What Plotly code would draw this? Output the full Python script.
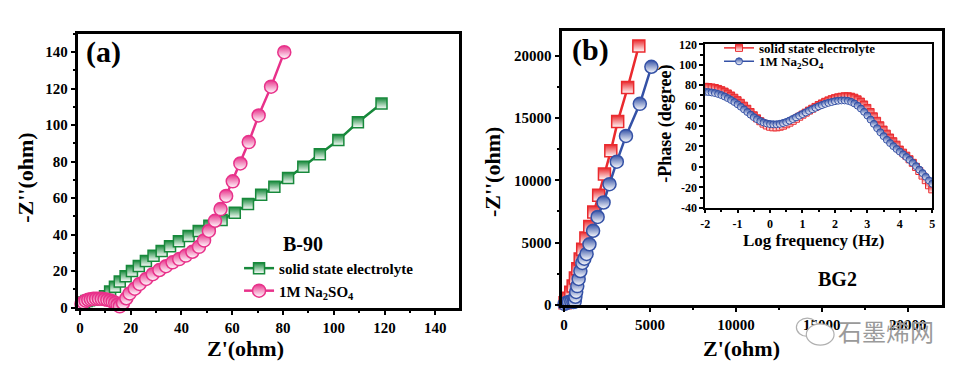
import plotly.graph_objects as go

# ---------------- data ----------------
# Panel (a)  B-90 Nyquist
a_solid_x = [0.8, 1.6, 2.6, 3.6, 4.6, 5.6, 6.6, 7.6, 8.6, 9.9, 11.9, 13.8, 15.7, 18.0, 20.5, 23.2, 26.0, 29.0,
             32.2, 35.5, 39.0, 42.8, 46.8, 51.0, 55.8, 61.0, 66.2, 71.4, 76.6, 82.0, 88.0, 94.5, 101.8, 109.5, 118.8]
a_solid_y = [1.5, 2.8, 3.6, 4.1, 4.4, 4.6, 4.7, 4.8, 5.0, 6.2, 8.8, 11.5, 14.3, 17.2, 20.0, 22.8, 25.6, 28.4,
             31.0, 33.6, 36.4, 39.2, 42.0, 44.8, 48.0, 52.0, 56.8, 61.8, 66.2, 71.0, 77.2, 84.0, 91.8, 101.6, 111.8]
a_na_x = [0.6, 1.4, 2.3, 3.3, 4.3, 5.3, 6.4, 7.5, 8.6, 9.7, 10.8, 11.9, 12.9, 13.9, 14.8, 15.7, 17.0, 18.3,
          19.6, 21.6, 23.5, 26.1, 28.7, 31.3, 33.9, 36.5, 39.1, 41.7, 44.3, 46.9, 48.9, 50.8, 53.2, 55.4, 57.6,
          60.2, 63.2, 66.5, 70.4, 75.3, 80.5]
a_na_y = [2.0, 3.0, 3.8, 4.3, 4.6, 4.8, 4.9, 4.9, 4.8, 4.6, 4.3, 3.9, 3.3, 2.6, 1.6, 0.7, 2.5, 5.1,
          7.8, 10.4, 13.0, 15.7, 18.3, 20.6, 22.7, 24.8, 26.6, 28.5, 30.6, 33.3, 36.8, 42.0, 47.6, 54.0, 61.2,
          69.2, 79.0, 90.7, 105.3, 121.1, 140.0]

# Panel (b)  BG2 Nyquist
b_solid_x = [60, 220, 390, 530, 660, 800, 940, 1085, 1270, 1497, 1728, 2015, 2350, 2720, 3120, 3700, 4350]
b_solid_y = [150, 520, 1000, 1500, 2150, 2900, 3680, 4450, 5360, 6290, 7450, 8800, 10500, 12370, 14720, 17450, 20800]
b_na_x = [30, 140, 280, 420, 540, 620, 660, 705, 770, 850, 950, 1060, 1180, 1310, 1477, 1690, 1954, 2299, 2644,
          3069, 3603, 4408, 5080]
b_na_y = [60, 150, 210, 230, 210, 260, 640, 1030, 1500, 2070, 2710, 3360, 3700, 4085, 4860, 5945, 7054, 8217, 9690,
          11496, 13566, 16147, 19124]

# Inset  Bode phase
inset_logf = [-2.0, -1.9, -1.8, -1.7, -1.6, -1.5, -1.4, -1.3, -1.2, -1.1, -1.0, -0.9, -0.8, -0.7, -0.6, -0.5,
              -0.4, -0.3, -0.2, -0.1, 0.0, 0.1, 0.2, 0.3, 0.4, 0.5, 0.6, 0.7, 0.8, 0.9, 1.0, 1.1, 1.2, 1.3,
              1.4, 1.5, 1.6, 1.7, 1.8, 1.9, 2.0, 2.1, 2.2, 2.3, 2.4, 2.5, 2.6, 2.7, 2.8, 2.9, 3.0, 3.1, 3.2,
              3.3, 3.4, 3.5, 3.6, 3.7, 3.8, 3.9, 4.0, 4.1, 4.2, 4.3, 4.4, 4.5, 4.6, 4.7, 4.8, 4.9, 5.0]
inset_solid_phase = [78.5, 78.3, 77.9, 77.3, 76.4, 75.2, 73.8, 72.0, 70.0, 67.8, 65.4, 62.8, 60.0, 57.0, 53.8,
                     50.6, 47.6, 44.8, 42.4, 40.6, 39.4, 38.8, 38.8, 39.4, 40.4, 41.8, 43.4, 45.2, 47.2, 49.2,
                     51.2, 53.2, 55.2, 57.0, 58.8, 60.6, 62.2, 63.8, 65.2, 66.4, 67.4, 68.2, 68.8, 69.2, 69.2,
                     68.8, 67.8, 66.2, 64.0, 61.2, 57.8, 53.8, 49.6, 45.2, 40.8, 36.6, 32.6, 28.8, 25.2, 21.8,
                     17.0, 14.0, 11.0, 7.5, 4.0, 0.0, -4.0, -8.5, -13.0, -18.0, -22.0]
inset_na_phase = [73.6, 73.4, 73.0, 72.4, 71.5, 70.4, 69.0, 67.4, 65.6, 63.6, 61.4, 59.0, 56.4, 53.8, 51.2,
                  48.8, 46.8, 45.0, 43.6, 42.6, 42.0, 41.8, 41.8, 42.2, 43.0, 44.0, 45.4, 47.0, 48.6, 50.2,
                  51.8, 53.4, 55.0, 56.6, 58.0, 59.4, 60.6, 61.8, 62.8, 63.6, 64.4, 64.9, 65.2, 65.2, 64.8,
                  63.8, 62.2, 60.0, 57.2, 54.0, 50.4, 46.4, 42.2, 38.0, 34.0, 30.2, 26.6, 23.4, 20.4, 17.6,
                  15.0, 12.4, 9.8, 7.0, 4.0, 0.8, -2.6, -6.0, -9.6, -13.2, -16.5]

# tick labels
a_ticks = [0, 20, 40, 60, 80, 100, 120, 140]
b_ticks = [0, 5000, 10000, 15000, 20000]
inset_x_ticks = [-2, -1, 0, 1, 2, 3, 4, 5]
inset_x_labels = ["-2", "-1", "0", "1", "2", "3", "4", "5"]
inset_y_ticks = [-40, -20, 0, 20, 40, 60, 80, 100, 120]
inset_y_labels = ["-40", "-20", "0", "20", "40", "60", "80", "100", "120"]

solid_name = "solid state electrolyte"
na_name = "1M Na<sub>2</sub>SO<sub>4</sub>"

# ---------------- style ----------------
W, H = 965, 379
SERIF = "Liberation Serif"
GREEN = "#17893b"
PINK = "#e8318a"
RED = "#ea2a2e"
BLUE = "#3451a6"


def px(x):
    return x / W


def py(y):
    return 1 - y / H


def half(color, symbol, size, lw=1.5):
    return dict(symbol=symbol, size=size, color=color,
                gradient=dict(type="vertical", color="white"),
                line=dict(color=color, width=lw))


fig = go.Figure()

fig.add_trace(go.Scatter(x=a_solid_x, y=a_solid_y, name=solid_name, mode="lines+markers",
                         line=dict(color=GREEN, width=2.5), marker=half(GREEN, "square", 11),
                         xaxis="x", yaxis="y", legend="legend", cliponaxis=False))
fig.add_trace(go.Scatter(x=a_na_x, y=a_na_y, name=na_name, mode="lines+markers",
                         line=dict(color=PINK, width=2.5), marker=half(PINK, "circle", 13),
                         xaxis="x", yaxis="y", legend="legend", cliponaxis=False))

fig.add_trace(go.Scatter(x=b_solid_x, y=b_solid_y, name=solid_name, mode="lines+markers",
                         line=dict(color=RED, width=2.5), marker=half(RED, "square", 12),
                         xaxis="x2", yaxis="y2", showlegend=False, cliponaxis=False))
fig.add_trace(go.Scatter(x=b_na_x, y=b_na_y, name=na_name, mode="lines+markers",
                         line=dict(color=BLUE, width=2.5), marker=half(BLUE, "circle", 13),
                         xaxis="x2", yaxis="y2", showlegend=False, cliponaxis=False))

fig.add_trace(go.Scatter(x=inset_logf, y=inset_solid_phase, name=solid_name, mode="lines+markers",
                         line=dict(color=RED, width=1.5), marker=half(RED, "square", 7, 1),
                         xaxis="x3", yaxis="y3", legend="legend2"))
fig.add_trace(go.Scatter(x=inset_logf, y=inset_na_phase, name=na_name, mode="lines+markers",
                         line=dict(color=BLUE, width=1.5), marker=half(BLUE, "circle", 7, 1),
                         xaxis="x3", yaxis="y3", legend="legend3"))


def axis(domain, rng, tickvals, ticktext, minor, anchor, lw=2.5, fs=15, ticklen=5):
    return dict(domain=domain, range=rng, anchor=anchor, tickmode="array",
                tickvals=tickvals, ticktext=ticktext,
                ticks="outside", ticklen=ticklen, tickwidth=2, tickcolor="black",
                showline=True, linewidth=lw, linecolor="black", mirror=True,
                showgrid=False, zeroline=False,
                minor=dict(dtick=minor, tick0=0, ticks="outside", ticklen=3, tickwidth=1.5, tickcolor="black"),
                tickfont=dict(family=SERIF, size=fs, color="black", weight="bold"))


ann = []


def text(x, y, s, size, angle=0, color="black", family=SERIF, weight="bold"):
    ann.append(dict(x=px(x), y=py(y), xref="paper", yref="paper", text=s, showarrow=False,
                    textangle=angle, font=dict(family=family, size=size, color=color, weight=weight),
                    xanchor="center", yanchor="middle"))


text(99, 47, "(a)", 30)
text(300, 247, "B-90", 20)
text(243, 356, "Z'(ohm)", 22)
text(21, 178, "-Z''(ohm)", 22, -90)
text(590, 45, "(b)", 30)
text(839, 283, "BG2", 20)
text(743, 356, "Z'(ohm)", 22)
text(491, 172, "-Z''(ohm)", 22, -90)
text(666, 121, "-Phase (degree)", 18, -90)
text(815, 243, "Log frequency (Hz)", 17)
text(888, 337, "石墨烯网", 24, color="#9a9a9a", family="Noto Sans CJK SC", weight="normal")

shapes = [
    dict(type="circle", xref="paper", yref="paper", x0=px(798), x1=px(820), y0=py(343), y1=py(324),
         line=dict(color="#b0b0b0", width=1.2)),
    dict(type="circle", xref="paper", yref="paper", x0=px(808), x1=px(836), y0=py(352), y1=py(330),
         fillcolor="white", line=dict(color="#b0b0b0", width=1.2)),
]


def legend(x, y, size):
    return dict(x=px(x), y=py(y), xanchor="left", yanchor="top", bgcolor="rgba(0,0,0,0)",
                font=dict(family=SERIF, size=size, color="black", weight="bold"), itemwidth=30,
                tracegroupgap=0)


fig.update_layout(
    width=W, height=H, margin=dict(l=0, r=0, t=0, b=0),
    paper_bgcolor="white", plot_bgcolor="white",
    xaxis=axis([px(74), px(458)], [-0.6, 149.4], a_ticks, [str(v) for v in a_ticks], 10, "y"),
    yaxis=axis([py(313), py(28)], [0, 150], a_ticks, [str(v) for v in a_ticks], 10, "x"),
    xaxis2=axis([px(562), px(945)], [-100, 22000], b_ticks, [str(v) for v in b_ticks], 2500, "y2"),
    yaxis2=axis([py(310), py(25)], [0, 22000], b_ticks, [str(v) for v in b_ticks], 2500, "x2"),
    xaxis3=axis([px(706), px(935)], [-2, 5], inset_x_ticks, inset_x_labels, 0.5, "y3", lw=1.5, fs=12, ticklen=4),
    yaxis3=axis([py(209), py(39)], [-40, 120], inset_y_ticks, inset_y_labels, 10, "x3", lw=1.5, fs=12, ticklen=4),
    legend=legend(236, 255, 15),
    legend2=legend(720, 27, 13),
    legend3=legend(720, 41, 13),
    annotations=ann, shapes=shapes,
)

fig.write_html("out.html", config={"displayModeBar": False},
               post_script="document.body.style.margin='0px';")
